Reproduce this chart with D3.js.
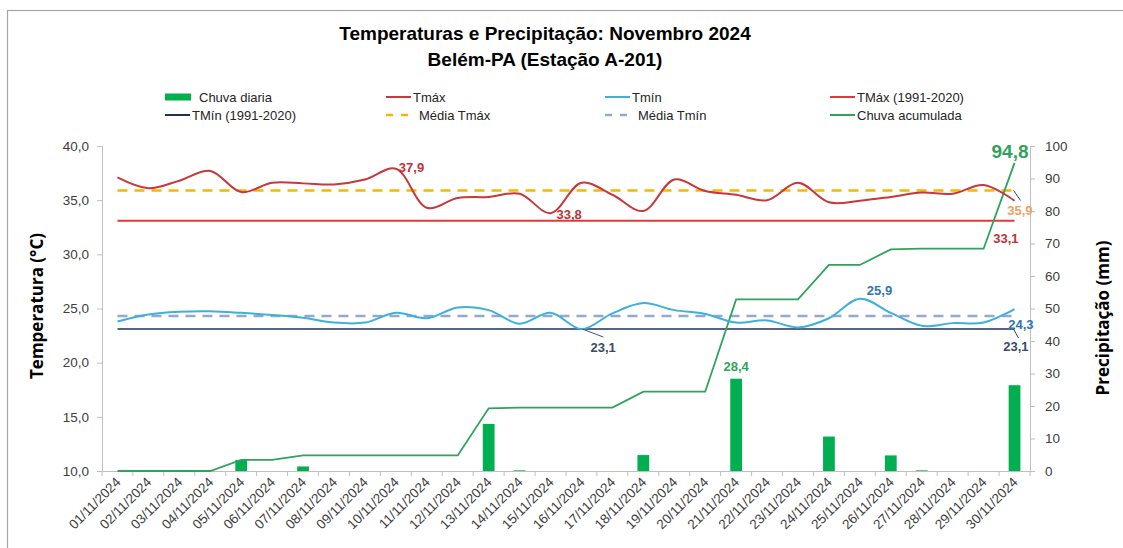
<!DOCTYPE html>
<html><head><meta charset="utf-8">
<script src="https://cdn.jsdelivr.net/npm/d3@7"></script>
<style>body{margin:0;background:#fff}svg{display:block}</style>
</head><body><svg id="c" width="1123" height="548"></svg>
<script>
const days = ["01/11/2024","02/11/2024","03/11/2024","04/11/2024","05/11/2024","06/11/2024","07/11/2024","08/11/2024","09/11/2024","10/11/2024","11/11/2024","12/11/2024","13/11/2024","14/11/2024","15/11/2024","16/11/2024","17/11/2024","18/11/2024","19/11/2024","20/11/2024","21/11/2024","22/11/2024","23/11/2024","24/11/2024","25/11/2024","26/11/2024","27/11/2024","28/11/2024","29/11/2024","30/11/2024"];
const tmax = [37.1,36.1,36.8,37.7,35.75,36.6,36.55,36.45,36.9,37.9,34.3,35.2,35.3,35.6,33.8,36.6,35.5,34.0,36.9,35.85,35.5,35.0,36.6,34.8,34.95,35.3,35.7,35.6,36.4,34.95];
const tmin = [23.8,24.45,24.7,24.75,24.6,24.4,24.15,23.7,23.7,24.6,24.1,25.1,24.85,23.6,24.6,23.1,24.55,25.5,24.85,24.5,23.7,23.9,23.25,24.1,25.9,24.6,23.4,23.65,23.7,24.95];
const chuva = [0,0,0,0,3.4,0,1.4,0,0,0,0,0,14.5,0.2,0,0,0,4.9,0,0,28.4,0,0,10.6,0,4.8,0.2,0,0,26.4];
const chuvaAcum = [0,0,0,0,3.4,3.4,4.8,4.8,4.8,4.8,4.8,4.8,19.3,19.5,19.5,19.5,19.5,24.4,24.4,24.4,52.8,52.8,52.8,63.4,63.4,68.2,68.4,68.4,68.4,94.8];
const tmaxNormal = 33.1, tminNormal = 23.1, mediaTmax = 35.9, mediaTmin = 24.3;
const tempTicks = [10,15,20,25,30,35,40];
const precTicks = [0,10,20,30,40,50,60,70,80,90,100];
const title1 = "Temperaturas e Precipitação: Novembro 2024";
const title2 = "Belém-PA (Estação A-201)";

const C = {bar:"#00B050", tmax:"#C8373B", tmin:"#3DB1D9", nmax:"#E0383C", nmin:"#1F3356",
  mmax:"#F5B800", mmin:"#95A8CF", acum:"#2FA35C"};
const svg = d3.select("#c");
const F = "'Liberation Sans Narrow','Liberation Sans',Arial,sans-serif";
const FT = "'Liberation Sans',Arial,sans-serif";

svg.append("rect").attr("x",7.5).attr("y",10.5).attr("width",1130).attr("height",560)
  .attr("fill","none").attr("stroke","#A6A6A6").attr("stroke-width",1.2);

const L=102, R=1030, T=146, B=471;
const x = d3.scaleBand().domain(days).range([L,R]).paddingInner(0.62).paddingOuter(0.31);
const xc = d => x(d)+x.bandwidth()/2;
const yT = d3.scaleLinear().domain([10,40]).range([B,T]);
const yP = d3.scaleLinear().domain([0,100]).range([B,T]);

// titles
svg.append("text").attr("x",545).attr("y",40).attr("text-anchor","middle")
  .attr("font-family",FT).attr("font-weight","bold").attr("font-size",19).attr("fill","#000").text(title1);
svg.append("text").attr("x",545).attr("y",66).attr("text-anchor","middle")
  .attr("font-family",FT).attr("font-weight","bold").attr("font-size",19).attr("fill","#000").text(title2);

// axes
const axL = d3.axisLeft(yT).tickValues(tempTicks).tickSize(5).tickPadding(8).tickFormat(d=>d3.format(".1f")(d).replace(".",","));
const gL = svg.append("g").attr("transform",`translate(${L},0)`).call(axL);
const axR = d3.axisRight(yP).tickValues(precTicks).tickSize(5).tickPadding(10);
const gR = svg.append("g").attr("transform",`translate(${R},0)`).call(axR);
const axB = d3.axisBottom(x).tickSize(0).tickFormat("");
const gB = svg.append("g").attr("transform",`translate(0,${B})`).call(axB);
[gL,gR,gB].forEach(g=>{g.select(".domain").attr("stroke","#BFBFBF");g.selectAll(".tick line").attr("stroke","#BFBFBF");
  g.selectAll("text").attr("font-family",FT).attr("font-size",13.5).attr("fill","#404040");});
// x ticks at band boundaries
const bounds = days.map((d,i)=>L + i*(R-L)/days.length).concat([R]);
gB.selectAll(".bt").data(bounds).enter().append("line").attr("x1",d=>d).attr("x2",d=>d).attr("y1",0).attr("y2",5).attr("stroke","#BFBFBF");
gB.selectAll(".xl").data(days).enter().append("text")
  .attr("transform",d=>`translate(${xc(d)+4},${12}) rotate(-45)`)
  .attr("text-anchor","end").attr("font-family",FT).attr("font-size",13.5).attr("fill","#404040").text(d=>d);

// axis titles
svg.append("text").attr("transform","translate(43,306) rotate(-90)").attr("text-anchor","middle")
  .attr("font-family","'Open Sans',sans-serif").attr("font-weight","bold").attr("font-size",17).text("Temperatura (°C)");
svg.append("text").attr("transform","translate(1109,318) rotate(-90)").attr("text-anchor","middle")
  .attr("font-family","'Open Sans',sans-serif").attr("font-weight","bold").attr("font-size",17).text("Precipitação (mm)");

// bars
svg.append("g").selectAll("rect").data(days).enter().append("rect")
  .attr("x",d=>x(d)).attr("width",x.bandwidth())
  .attr("y",(d,i)=>yP(chuva[i])).attr("height",(d,i)=>B-yP(chuva[i])).attr("fill",C.bar);

// reference lines
const x0 = xc(days[0]), x1 = xc(days[days.length-1]);
function hline(v,color,dash,w){svg.append("line").attr("x1",x0).attr("x2",x1).attr("y1",yT(v)).attr("y2",yT(v))
  .attr("stroke",color).attr("stroke-width",w).attr("stroke-dasharray",dash||null);}
hline(mediaTmax,C.mmax,"10,7",2.5);
hline(mediaTmin,C.mmin,"10,7",2.5);
hline(tmaxNormal,C.nmax,null,1.8);
hline(tminNormal,C.nmin,null,1.5);

// accumulated rain
svg.append("path").datum(chuvaAcum).attr("fill","none").attr("stroke",C.acum).attr("stroke-width",1.8)
  .attr("d",d3.line().x((d,i)=>xc(days[i])).y(d=>yP(d)));

// temperature curves
const smooth = d3.line().curve(d3.curveCatmullRom.alpha(0.5)).x((d,i)=>xc(days[i]));
svg.append("path").datum(tmax).attr("fill","none").attr("stroke",C.tmax).attr("stroke-width",2).attr("d",smooth.y(d=>yT(d)));
svg.append("path").datum(tmin).attr("fill","none").attr("stroke",C.tmin).attr("stroke-width",2).attr("d",smooth.y(d=>yT(d)));

// labels
const fmt = v=>String(v).replace(".",",");
function lab(txt,xx,yy,color,size,anchor){svg.append("text").attr("x",xx).attr("y",yy).attr("fill",color)
  .attr("font-family",FT).attr("font-weight","bold").attr("font-size",size||13).attr("text-anchor",anchor||"start").text(txt);}
function leader(xa,ya,xb,yb,color){svg.append("line").attr("x1",xa).attr("y1",ya).attr("x2",xb).attr("y2",yb).attr("stroke",color||"#404040").attr("stroke-width",1);}
const iMax = tmax.indexOf(d3.max(tmax)), iMinX = tmax.indexOf(d3.min(tmax));
const iMinN = tmin.indexOf(d3.min(tmin)), iMaxN = tmin.indexOf(d3.max(tmin));
const iRain = chuva.indexOf(d3.max(chuva));
lab(fmt(tmax[iMax].toFixed(1)), xc(days[iMax])+3, yT(tmax[iMax])+3, "#C0323A");
lab(fmt(tmax[iMinX].toFixed(1)), xc(days[iMinX])+6, yT(tmax[iMinX])+6, "#C0323A");
leader(xc(days[iMinN])+1, yT(tmin[iMinN]), xc(days[iMinN])+22, yT(tmin[iMinN])+8, "#44546A");
lab(fmt(tmin[iMinN].toFixed(1)), xc(days[iMinN])+9, yT(tmin[iMinN])+23, "#3B4A66");
lab(fmt(chuva[iRain].toFixed(1)), xc(days[iRain]), yP(chuva[iRain])-8, "#2FA35C", 13, "middle");
lab(fmt(tmin[iMaxN].toFixed(1)), xc(days[iMaxN])+7, yT(tmin[iMaxN])-4, "#2E75B6");
const xe = x1;
leader(xe-1, yT(mediaTmax), xe+6, yT(mediaTmax)+10, "#404040");
lab(fmt(mediaTmax.toFixed(1)), xe+18, yT(mediaTmax)+25, "#F0A060", 13, "end");
lab(fmt(tmaxNormal.toFixed(1)), xe+4, yT(tmaxNormal)+22, "#C0323A", 13, "end");
lab(fmt(mediaTmin.toFixed(1)), xe+19, yT(mediaTmin)+13, "#2E75B6", 13, "end");
leader(xe-1, yT(tminNormal), xe+4, yT(tminNormal)+9, "#404040");
lab(fmt(tminNormal.toFixed(1)), xe+14, yT(tminNormal)+22, "#3B4A66", 13, "end");
lab(fmt(chuvaAcum[chuvaAcum.length-1].toFixed(1)), xe+14, yP(chuvaAcum[chuvaAcum.length-1])-5, "#2FA35C", 19, "end");

// legend
const legend = [
  {t:"Chuva diaria",type:"rect",c:C.bar,x:165,y:97},
  {t:"Tmáx",type:"line",c:C.tmax,x:386,y:97},
  {t:"Tmín",type:"line",c:C.tmin,x:605,y:97},
  {t:"TMáx (1991-2020)",type:"line",c:C.nmax,x:830,y:97},
  {t:"TMín (1991-2020)",type:"line",c:C.nmin,x:165,y:115},
  {t:"Média Tmáx",type:"dash",c:C.mmax,x:386,y:115},
  {t:"Média Tmín",type:"dash",c:C.mmin,x:605,y:115},
  {t:"Chuva acumulada",type:"line",c:C.acum,x:830,y:115}];
legend.forEach(e=>{
  if(e.type==="rect") svg.append("rect").attr("x",e.x).attr("y",e.y-3.5).attr("width",26).attr("height",7).attr("fill",e.c);
  else if(e.type==="line") svg.append("line").attr("x1",e.x).attr("x2",e.x+25).attr("y1",e.y).attr("y2",e.y).attr("stroke",e.c).attr("stroke-width",2);
  else svg.append("line").attr("x1",e.x).attr("x2",e.x+25).attr("y1",e.y).attr("y2",e.y).attr("stroke",e.c).attr("stroke-width",2.5).attr("stroke-dasharray","7,8");
  svg.append("text").attr("x",e.x+(e.type==="dash"?33:(e.type==="rect"?34:27))).attr("y",e.y+4.5)
    .attr("font-family",F).attr("font-size",13).attr("fill","#262626").text(e.t);
});
</script></body></html>
